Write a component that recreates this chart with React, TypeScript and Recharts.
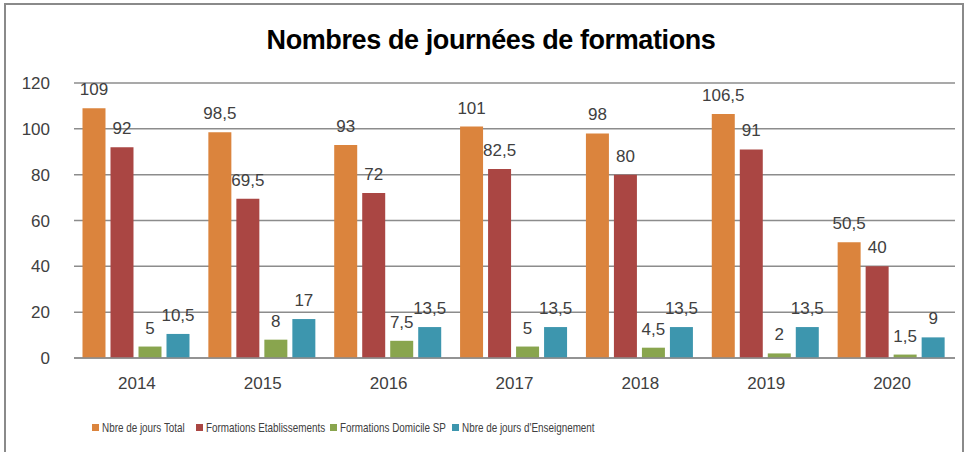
import React from 'react';
import { BarChart, Bar, XAxis, YAxis, CartesianGrid, LabelList } from 'recharts';

const years = ['2014', '2015', '2016', '2017', '2018', '2019', '2020'];
const joursTotal = [109, 98.5, 93, 101, 98, 106.5, 50.5];
const formationsEtablissements = [92, 69.5, 72, 82.5, 80, 91, 40];
const formationsDomicile = [5, 8, 7.5, 5, 4.5, 2, 1.5];
const joursEnseignement = [10.5, 17, 13.5, 13.5, 13.5, 13.5, 9];
const yTicks = [0, 20, 40, 60, 80, 100, 120];

const seriesNames = [
  'Nbre de jours Total',
  'Formations Etablissements',
  'Formations Domicile SP',
  "Nbre de jours d'Enseignement",
];
const seriesKeys = ['total', 'etab', 'domicile', 'enseignement'];
const colors = ['#DB843D', '#AA4643', '#89A54E', '#3D96AE'];

const data = years.map((year, i) => ({
  year,
  total: joursTotal[i],
  etab: formationsEtablissements[i],
  domicile: formationsDomicile[i],
  enseignement: joursEnseignement[i],
}));

const font = '"Liberation Sans", Arial, sans-serif';
const fmt = (v: number) => String(v).replace('.', ',');

// legend item left positions (px)
const legendX = [92, 196, 330, 452];

const App: React.FC = () => {
  return (
    <div style={{ position: 'absolute', left: 0, top: 0, width: 968, height: 452, background: '#fff', overflow: 'hidden', fontFamily: font }}>
      <div style={{ position: 'absolute', left: 4, top: 3, width: 956, height: 470, border: '2px solid #8a8a8a' }} />
      <div style={{ position: 'absolute', left: 0, top: 25, width: 982, textAlign: 'center', fontSize: 27, fontWeight: 'bold', color: '#000', letterSpacing: -0.4 }}>
        Nombres de journées de formations
      </div>
      <div style={{ position: 'absolute', left: 0, top: 0 }}>
        <BarChart
          width={968}
          height={452}
          data={data}
          margin={{ top: 83, right: 13, bottom: 64, left: 10 }}
          barCategoryGap="6.75%"
          barGap={5}
        >
          <CartesianGrid vertical={false} stroke="#8c8c8c" strokeWidth={1.5} />
          <XAxis
            dataKey="year"
            height={30}
            axisLine={{ stroke: '#8c8c8c', strokeWidth: 1.5 }}
            tickLine={false}
            tick={{ fill: '#404040', fontSize: 17, fontFamily: font }}
            tickMargin={13}
          />
          <YAxis
            domain={[0, 120]}
            ticks={yTicks}
            width={64}
            axisLine={false}
            tickLine={false}
            tick={{ fill: '#404040', fontSize: 17, fontFamily: font }}
            tickMargin={18}
          />
          {seriesKeys.map((k, i) => (
            <Bar key={k} dataKey={k} name={seriesNames[i]} fill={colors[i]} isAnimationActive={false}>
              <LabelList
                dataKey={k}
                position="top"
                offset={13}
                formatter={(v: any) => fmt(Number(v))}
                style={{ fill: '#404040', fontSize: 17, fontFamily: font }}
              />
            </Bar>
          ))}
        </BarChart>
      </div>
      {seriesNames.map((name, i) => (
        <div key={name} style={{ position: 'absolute', left: legendX[i], top: 420, display: 'flex', alignItems: 'center', whiteSpace: 'nowrap' }}>
          <span style={{ display: 'inline-block', width: 7, height: 7, background: colors[i], marginRight: 3 }} />
          <span style={{ display: 'inline-block', fontSize: 13, color: '#404040', transform: 'scaleX(0.76)', transformOrigin: 'left center' }}>{name}</span>
        </div>
      ))}
    </div>
  );
};

export default App;
